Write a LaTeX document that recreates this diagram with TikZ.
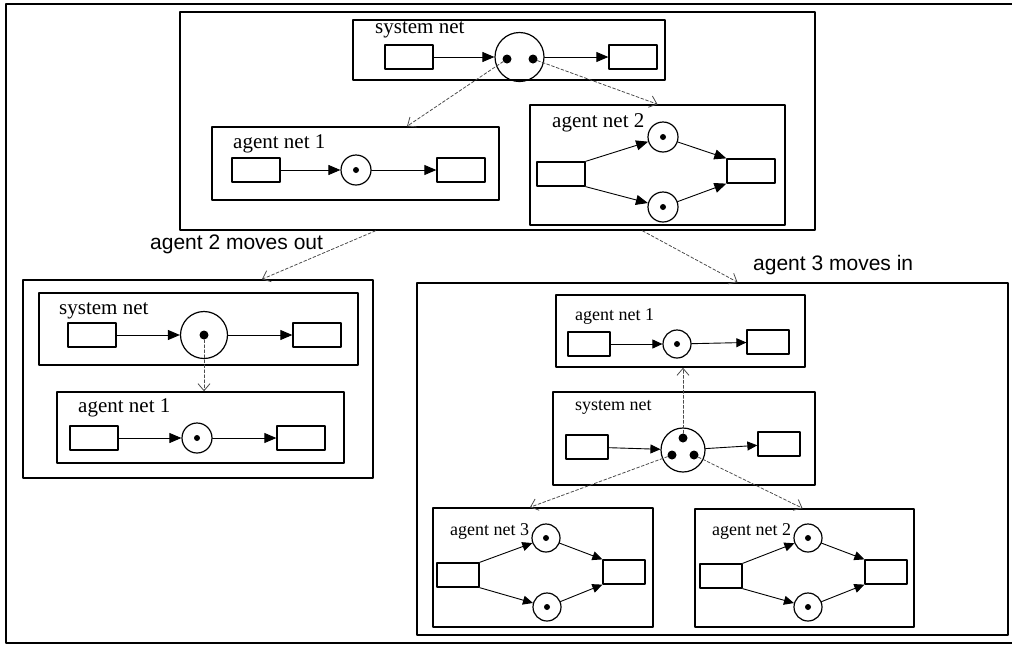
\documentclass[tikz,border=0pt]{standalone}
\usepackage{fontspec}
\setmainfont{Liberation Serif}
\setsansfont{Liberation Sans}
\usetikzlibrary{arrows.meta}

\tikzset{
  statebox/.style={draw, line width=1.6pt, inner sep=0pt},
  netbox/.style={draw, line width=1.5pt, inner sep=0pt},
  transnode/.style={draw, line width=1.3pt, minimum width=48pt, minimum height=24pt, inner sep=0pt},
  stransnode/.style={transnode, minimum width=42pt},
  placenode/.style={draw, circle, line width=1.2pt, minimum size=30pt, inner sep=0pt},
  splacenode/.style={placenode, minimum size=28pt},
  tok/.style={circle, fill, minimum size=6pt, inner sep=0pt},
  bigtok/.style={tok, minimum size=9pt},
  lbl/.style={font=\fontsize{21}{24}\selectfont, inner sep=0pt, anchor=base west},
  slbl/.style={lbl, font=\fontsize{18}{21}\selectfont},
  movelbl/.style={font=\sffamily\fontsize{21}{24}\selectfont, inner sep=0pt, anchor=base west},
  flow/.style={line width=0.9pt, -{Triangle[length=12pt,width=10pt]}},
  sflow/.style={line width=0.9pt, -{Triangle[length=10pt,width=9pt]}},
  moveline/.style={gray!60!black, line width=0.8pt, dash pattern=on 3pt off 2pt,
    -{Straight Barb[length=7pt,width=12pt]}}
}

\begin{document}
\begin{tikzpicture}[x=1pt,y=-1pt,line cap=round,line join=round]
\useasboundingbox (0,0) rectangle (1012,646);
% frame
\draw[line width=1.4pt] (1012,4) -- (6,4) -- (6,643) -- (1012,643);

% state before
\node[statebox, minimum width=635pt, minimum height=218pt] (stA) at (497.5,121) {};
\node[netbox, minimum width=312pt, minimum height=60pt] (aSys) at (509,50) {};
\node[lbl] (aSysL) at (375,33) {system net};
\node[transnode] (aSysT1) at (409,57) {};
\node[placenode, minimum size=49pt] (aSysP) at (519.5,57) {};
\node[bigtok] (aSysK1) at (507,59) {};
\node[bigtok] (aSysK2) at (533,59) {};
\node[transnode] (aSysT2) at (633,57) {};
\draw[flow] (aSysT1) -- (aSysP);
\draw[flow] (aSysP) -- (aSysT2);

\node[netbox, minimum width=287pt, minimum height=73pt] (aOne) at (355.5,163.5) {};
\node[lbl] (aOneL) at (233,148) {agent net 1};
\node[transnode] (aOneT1) at (256,170) {};
\node[placenode] (aOneP) at (356,170) {};
\node[tok] (aOneK) at (356,170) {};
\node[transnode] (aOneT2) at (461,170) {};
\draw[flow] (aOneT1) -- (aOneP);
\draw[flow] (aOneP) -- (aOneT2);

\node[netbox, minimum width=255pt, minimum height=120pt] (aTwo) at (657.5,165) {};
\node[lbl] (aTwoL) at (552,127) {agent net 2};
\node[transnode] (aTwoT1) at (561,174) {};
\node[placenode] (aTwoP1) at (663,137) {};
\node[tok] (aTwoK1) at (663,137) {};
\node[placenode] (aTwoP2) at (663,207) {};
\node[tok] (aTwoK2) at (663,207) {};
\node[transnode] (aTwoT2) at (751,171) {};
\draw[flow] (aTwoT1.north east) -- (aTwoP1);
\draw[flow] (aTwoT1.south east) -- (aTwoP2);
\draw[flow] (aTwoP1) -- (aTwoT2.north west);
\draw[flow] (aTwoP2) -- (aTwoT2.south west);

\draw[moveline] (aSysK1) -- ([xshift=51.5pt]aOne.north);
\draw[moveline] (aSysK2) -- (aTwo.north);

% agent 2 leaves
\node[movelbl] (outL) at (150,249) {agent 2 moves out};
\node[statebox, minimum width=350pt, minimum height=198pt] (stB) at (198,379) {};
\node[netbox, minimum width=319pt, minimum height=72pt] (bSys) at (198.5,329) {};
\node[lbl] (bSysL) at (59,314) {system net};
\node[transnode] (bSysT1) at (92,335) {};
\node[placenode, minimum size=47pt] (bSysP) at (204,335) {};
\node[bigtok] (bSysK) at (204,335) {};
\node[transnode] (bSysT2) at (317,335) {};
\draw[flow] (bSysT1) -- (bSysP);
\draw[flow] (bSysP) -- (bSysT2);

\node[netbox, minimum width=287pt, minimum height=71pt] (bOne) at (200.5,427.5) {};
\node[lbl] (bOneL) at (78,412) {agent net 1};
\node[transnode] (bOneT1) at (94,438) {};
\node[placenode] (bOneP) at (197,438) {};
\node[tok] (bOneK) at (197,438) {};
\node[transnode] (bOneT2) at (301,438) {};
\draw[flow] (bOneT1) -- (bOneP);
\draw[flow] (bOneP) -- (bOneT2);

\draw[moveline] (bSysK) -- (bOne.north -| bSysK);
\draw[moveline] ([xshift=-122pt]stA.south) -- ([xshift=64pt]stB.north);

% agent 3 enters
\node[movelbl] (inL) at (753,270) {agent 3 moves in};
\node[statebox, minimum width=591pt, minimum height=352pt] (stC) at (712.5,459) {};
\node[netbox, minimum width=249pt, minimum height=72pt] (cOne) at (680.5,331) {};
\node[slbl] (cOneL) at (575,320) {agent net 1};
\node[stransnode] (cOneT1) at (589,344) {};
\node[splacenode] (cOneP) at (677,344) {};
\node[tok] (cOneK) at (677,344) {};
\node[stransnode] (cOneT2) at (768,342) {};
\draw[sflow] (cOneT1) -- (cOneP);
\draw[sflow] (cOneP) -- (cOneT2);

\node[netbox, minimum width=262pt, minimum height=93pt] (cSys) at (684,438.5) {};
\node[slbl] (cSysL) at (575,410) {system net};
\node[stransnode] (cSysT1) at (587,447) {};
\node[placenode, minimum size=44pt] (cSysP) at (683,450) {};
\node[bigtok] (cSysK1) at (683,438) {};
\node[bigtok] (cSysK2) at (672,455) {};
\node[bigtok] (cSysK3) at (694,455) {};
\node[stransnode] (cSysT2) at (779,444) {};
\draw[sflow] (cSysT1) -- (cSysP);
\draw[sflow] (cSysP) -- (cSysT2);

\node[netbox, minimum width=220pt, minimum height=119pt] (cThree) at (543,567.5) {};
\node[slbl] (cThreeL) at (450,535) {agent net 3};
\node[stransnode] (cThreeT1) at (458,575) {};
\node[splacenode] (cThreeP1) at (546,538) {};
\node[tok] (cThreeK1) at (546,538) {};
\node[splacenode] (cThreeP2) at (547,607) {};
\node[tok] (cThreeK2) at (547,607) {};
\node[stransnode] (cThreeT2) at (624,572) {};
\draw[sflow] (cThreeT1.north east) -- (cThreeP1);
\draw[sflow] (cThreeT1.south east) -- (cThreeP2);
\draw[sflow] (cThreeP1) -- (cThreeT2.north west);
\draw[sflow] (cThreeP2) -- (cThreeT2.south west);

\node[netbox, minimum width=219pt, minimum height=118pt] (cTwo) at (804.5,568) {};
\node[slbl] (cTwoL) at (712,535) {agent net 2};
\node[stransnode] (cTwoT1) at (721,576) {};
\node[splacenode] (cTwoP1) at (808,538) {};
\node[tok] (cTwoK1) at (808,538) {};
\node[splacenode] (cTwoP2) at (808,607) {};
\node[tok] (cTwoK2) at (808,607) {};
\node[stransnode] (cTwoT2) at (886,572) {};
\draw[sflow] (cTwoT1.north east) -- (cTwoP1);
\draw[sflow] (cTwoT1.south east) -- (cTwoP2);
\draw[sflow] (cTwoP1) -- (cTwoT2.north west);
\draw[sflow] (cTwoP2) -- (cTwoT2.south west);

\draw[moveline] (cSysK1) -- (cOne.south -| cSysK1);
\draw[moveline] (cSysK2) -- ([xshift=-13pt]cThree.north);
\draw[moveline] (cSysK3) -- ([xshift=-2pt]cTwo.north);
\draw[moveline] ([xshift=145pt]stA.south) -- ([xshift=25pt]stC.north);
\end{tikzpicture}
\end{document}
